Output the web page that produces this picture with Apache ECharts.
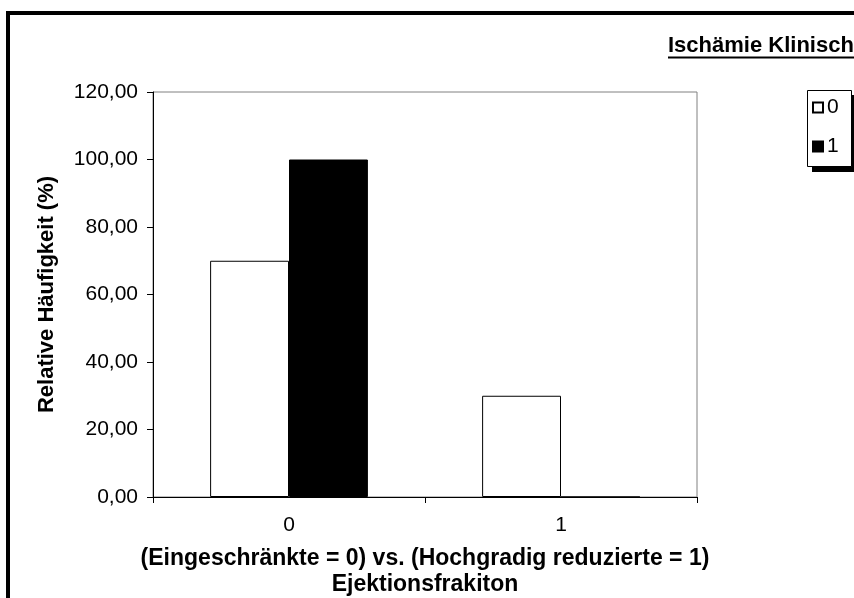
<!DOCTYPE html>
<html>
<head>
<meta charset="utf-8">
<script src="https://cdn.jsdelivr.net/npm/echarts@6/dist/echarts.min.js"></script>
<style>
html,body{margin:0;padding:0;background:#fff;}
#c{width:854px;height:598px;}
</style>
</head>
<body>
<div id="c"></div>
<script>
const categories = ['0', '1'];
const seriesNames = ['0', '1'];
const values0 = [70, 30];
const values1 = [100, 0];
const yTicks = { min: 0, max: 120, interval: 20 };
const titleText = 'Ischämie Klinisch';
const xAxisName = '(Eingeschränkte = 0) vs. (Hochgradig reduzierte = 1)\nEjektionsfrakiton';
const yAxisName = 'Relative Häufigkeit (%)';

const FONT = '"Liberation Sans", Arial, sans-serif';
const chart = echarts.init(document.getElementById('c'), null, { renderer: 'canvas' });
chart.setOption({
  backgroundColor: '#fff',
  animation: false,
  title: {
    text: titleText,
    left: 668, top: 35, padding: 0,
    textStyle: { fontFamily: FONT, fontSize: 22, fontWeight: 'bold', color: '#000' }
  },
  graphic: [
    { type: 'rect', shape: { x: 8, y: 13, width: 900, height: 700 },
      style: { fill: 'none', stroke: '#000', lineWidth: 4 }, z: 100 },
    { type: 'line', shape: { x1: 668, y1: 57.5, x2: 854, y2: 57.5 },
      style: { stroke: '#000', lineWidth: 2 }, z: 100 },
    { type: 'rect', shape: { x: 812, y: 95, width: 45, height: 77 },
      style: { fill: '#000' }, z: 1 },
    { type: 'rect', shape: { x: 807.5, y: 90.5, width: 44, height: 76 },
      style: { fill: '#fff', stroke: '#000', lineWidth: 1 }, z: 2 }
  ],
  legend: {
    orient: 'vertical',
    left: 812, top: 97,
    padding: 0,
    itemGap: 18,
    itemWidth: 10, itemHeight: 10,
    icon: 'rect',
    z: 10,
    textStyle: { fontFamily: FONT, fontSize: 21, color: '#000', padding: [0, 0, 0, -1] },
    data: seriesNames
  },
  grid: {
    left: 153, top: 92, right: 157, bottom: 101,
    outerBoundsMode: 'none',
    containLabel: false,
    show: true, borderColor: '#808080', borderWidth: 1, backgroundColor: '#fff'
  },
  xAxis: {
    type: 'category',
    data: categories,
    axisLine: { lineStyle: { color: '#000', width: 1 } },
    axisTick: { show: true, length: 6, lineStyle: { color: '#000' } },
    axisLabel: { fontFamily: FONT, fontSize: 21, color: '#000', margin: 18 },
    name: xAxisName,
    nameLocation: 'middle',
    nameGap: 49,
    nameTextStyle: { fontFamily: FONT, fontSize: 23, fontWeight: 'bold', color: '#000', lineHeight: 26 }
  },
  yAxis: {
    type: 'value',
    min: yTicks.min, max: yTicks.max, interval: yTicks.interval,
    axisLine: { show: true, lineStyle: { color: '#000', width: 1 } },
    axisTick: { show: true, length: 6, lineStyle: { color: '#000' } },
    splitLine: { show: false },
    axisLabel: {
      fontFamily: FONT, fontSize: 21, color: '#000', margin: 15,
      formatter: v => v.toFixed(2).replace('.', ',')
    },
    name: yAxisName,
    nameLocation: 'middle',
    nameGap: 95,
    nameTextStyle: { fontFamily: FONT, fontSize: 22, fontWeight: 'bold', color: '#000' }
  },
  series: [
    { name: seriesNames[0], type: 'bar', data: values0, barGap: '0%', barCategoryGap: '42%',
      itemStyle: { color: '#fff', borderColor: '#000', borderWidth: 1 } },
    { name: seriesNames[1], type: 'bar', data: values1, barGap: '0%', barCategoryGap: '42%',
      itemStyle: { color: '#000', borderColor: '#000', borderWidth: 1 } }
  ]
});
</script>
</body>
</html>
